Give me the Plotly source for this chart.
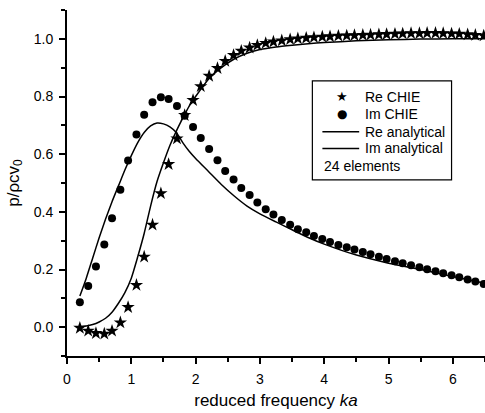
import plotly.graph_objects as go

# ---- data ----
ka_chie = [0.20, 0.33, 0.45, 0.58, 0.70, 0.83, 0.95, 1.08, 1.20, 1.33,
           1.46, 1.58, 1.71, 1.83, 1.96, 2.08, 2.21, 2.34, 2.46, 2.59,
           2.71, 2.84, 2.96, 3.09, 3.21, 3.34, 3.47, 3.59, 3.72, 3.84,
           3.97, 4.09, 4.22, 4.35, 4.47, 4.60, 4.72, 4.85, 4.97, 5.10,
           5.22, 5.35, 5.48, 5.60, 5.73, 5.85, 5.98, 6.10, 6.23, 6.35, 6.48]

re_chie = [-0.003, -0.013, -0.021, -0.023, -0.013, 0.016, 0.069, 0.146, 0.244, 0.355,
           0.464, 0.565, 0.654, 0.735, 0.787, 0.835, 0.871, 0.898, 0.923, 0.943,
           0.958, 0.969, 0.978, 0.985, 0.990, 0.994, 0.998, 1.001, 1.003, 1.005,
           1.007, 1.008, 1.010, 1.011, 1.012, 1.013, 1.014, 1.015, 1.016, 1.017,
           1.018, 1.019, 1.019, 1.020, 1.020, 1.019, 1.018, 1.017, 1.015, 1.013, 1.011]

im_chie = [0.086, 0.143, 0.210, 0.287, 0.378, 0.477, 0.578, 0.668, 0.737, 0.780,
           0.797, 0.791, 0.767, 0.733, 0.694, 0.656, 0.618, 0.579, 0.542, 0.512,
           0.483, 0.458, 0.432, 0.409, 0.391, 0.372, 0.355, 0.340, 0.329, 0.316,
           0.306, 0.295, 0.285, 0.277, 0.269, 0.261, 0.253, 0.244, 0.236, 0.229,
           0.222, 0.215, 0.208, 0.201, 0.194, 0.187, 0.180, 0.173, 0.165, 0.158, 0.150]

ka_an = [0.2, 0.3, 0.4, 0.5, 0.6, 0.7, 0.8, 0.9, 1.0, 1.1, 1.2, 1.3, 1.4, 1.5,
         1.6, 1.7, 1.8, 1.9, 2.0, 2.2, 2.4, 2.6, 2.8, 3.0, 3.25, 3.5, 3.75, 4.0,
         4.5, 5.0, 5.5, 6.0, 6.5]

re_an = [0.002, 0.004, 0.009, 0.018, 0.031, 0.052, 0.083, 0.120, 0.170, 0.244,
         0.325, 0.420, 0.505, 0.570, 0.630, 0.680, 0.725, 0.767, 0.800, 0.860,
         0.900, 0.930, 0.950, 0.963, 0.972, 0.978, 0.983, 0.987, 0.993, 0.997,
         0.999, 1.000, 1.000]

im_an = [0.108, 0.170, 0.240, 0.310, 0.375, 0.435, 0.490, 0.545, 0.595, 0.640,
         0.675, 0.698, 0.708, 0.705, 0.695, 0.675, 0.640, 0.610, 0.585, 0.540,
         0.495, 0.455, 0.420, 0.393, 0.365, 0.338, 0.311, 0.288, 0.250, 0.222,
         0.200, 0.176, 0.152]

x_ticks = [0, 1, 2, 3, 4, 5, 6]
y_ticks = [0.0, 0.2, 0.4, 0.6, 0.8, 1.0]
y_tick_labels = ["0.0", "0.2", "0.4", "0.6", "0.8", "1.0"]

legend_names = ["Re CHIE", "Im CHIE", "Re analytical", "Im analytical"]
legend_note = "24 elements"

FONT = "Liberation Sans, Arial, Helvetica, sans-serif"

fig = go.Figure()
fig.add_trace(go.Scatter(x=ka_chie, y=re_chie, mode="markers", name=legend_names[0],
                         marker=dict(symbol="star", size=10, color="black"),
                         cliponaxis=False))
fig.add_trace(go.Scatter(x=ka_chie, y=im_chie, mode="markers", name=legend_names[1],
                         marker=dict(symbol="circle", size=8, color="black"),
                         cliponaxis=False))
fig.add_trace(go.Scatter(x=ka_an, y=re_an, mode="lines", name=legend_names[2],
                         line=dict(color="black", width=1.5, shape="spline", smoothing=0.6)))
fig.add_trace(go.Scatter(x=ka_an, y=im_an, mode="lines", name=legend_names[3],
                         line=dict(color="black", width=1.5, shape="spline", smoothing=0.6)))

axis_common = dict(showgrid=False, zeroline=False, showline=True, linecolor="black",
                   linewidth=2, ticks="outside", tickcolor="black", tickwidth=2,
                   ticklen=6, mirror=False, ticklabelstandoff=3,
                   tickfont=dict(family=FONT, size=14, color="black"))

fig.update_xaxes(range=[0, 6.5], tickvals=x_ticks,
                 minor=dict(ticks="outside", ticklen=4, tickwidth=1.5, tickcolor="black", dtick=0.5, tick0=0),
                 title=dict(text="reduced frequency <i>ka</i>", font=dict(family=FONT, size=17, color="black"),
                            standoff=8),
                 **axis_common)
fig.update_yaxes(range=[-0.1, 1.1], tickvals=y_ticks, ticktext=y_tick_labels,
                 minor=dict(ticks="outside", ticklen=4, tickwidth=1.5, tickcolor="black", dtick=0.1, tick0=0),
                 title=dict(text="p/ρcv<sub>0</sub>", font=dict(family=FONT, size=17, color="black"),
                            standoff=10),
                 **axis_common)

# ---- legend box drawn by hand (paper coordinates) ----
fig.add_shape(type="rect", xref="paper", yref="paper",
              x0=0.587, x1=0.920, y0=0.509, y1=0.795,
              line=dict(color="black", width=1.2), fillcolor="white", layer="above")
sym_x = 0.657
text_x = 0.709
rows_y = [0.749, 0.699, 0.648, 0.600]
fig.add_annotation(text="★", xref="paper", yref="paper", x=sym_x, y=rows_y[0],
                   xanchor="center", yanchor="middle", showarrow=False,
                   font=dict(family="DejaVu Sans", size=13, color="black"))
fig.add_annotation(text="●", xref="paper", yref="paper", x=sym_x, y=rows_y[1],
                   xanchor="center", yanchor="middle", showarrow=False,
                   font=dict(family="DejaVu Sans", size=12, color="black"))
for yy in rows_y[2:]:
    fig.add_shape(type="line", xref="paper", yref="paper", x0=0.611, x1=0.699,
                  y0=yy, y1=yy, line=dict(color="black", width=1.5), layer="above")
for name, yy in zip(legend_names, rows_y):
    fig.add_annotation(text=name, xref="paper", yref="paper", x=text_x, y=yy,
                       xanchor="left", yanchor="middle", showarrow=False,
                       font=dict(family=FONT, size=14, color="black"))
fig.add_annotation(text=legend_note, xref="paper", yref="paper", x=0.611, y=0.550,
                   xanchor="left", yanchor="middle", showarrow=False,
                   font=dict(family=FONT, size=14, color="black"))

fig.update_layout(
    width=485, height=413,
    margin=dict(l=67, r=0, t=10, b=57),
    paper_bgcolor="white", plot_bgcolor="white",
    showlegend=False,
    font=dict(family=FONT, color="black"),
)

fig.write_html("out.html", config={"displayModeBar": False},
               post_script="document.body.style.margin='0';document.body.style.overflow='hidden';")
